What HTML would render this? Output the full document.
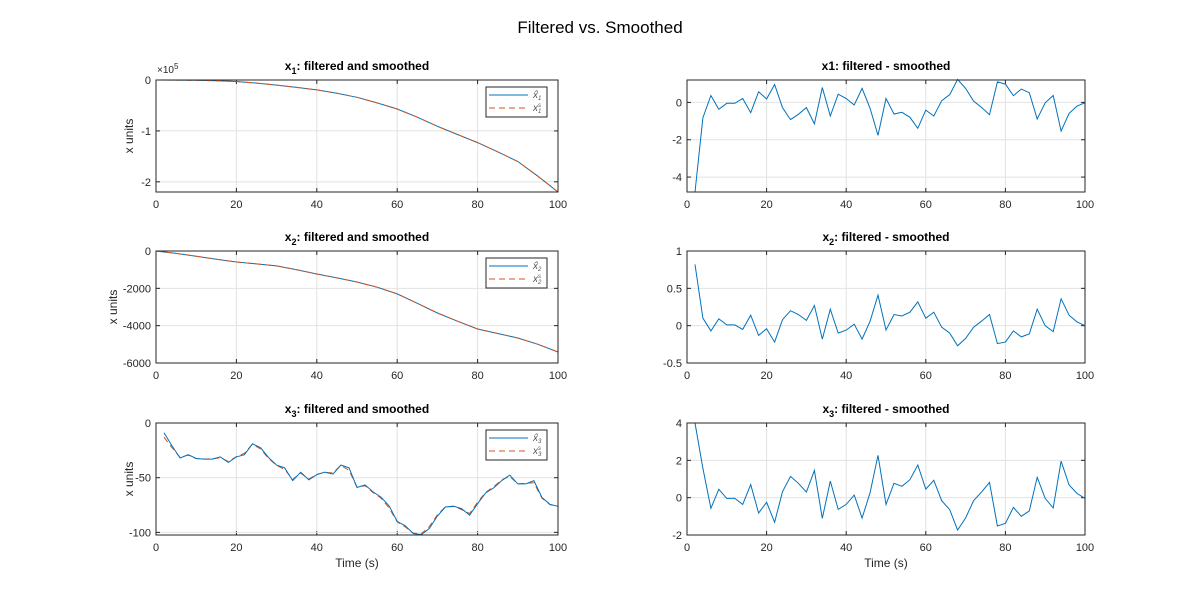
<!DOCTYPE html>
<html><head><meta charset="utf-8"><style>
body{margin:0;background:#fff;width:1200px;height:600px;overflow:hidden}
svg text{font-family:"Liberation Sans",Arial,sans-serif}
</style></head><body>
<svg id="fig" width="1200" height="600" xmlns="http://www.w3.org/2000/svg">
<rect width="1200" height="600" fill="#fff"/>
<text x="600" y="33" text-anchor="middle" font-size="17" fill="#000">Filtered vs. Smoothed</text>
</svg>
<script>
const tCoarse = [0,5,10,15,20,25,30,35,40,45,50,55,60,65,70,75,80,85,90,95,100];
const x1Filt = [0,-0.001,-0.005,-0.014,-0.03,-0.06,-0.1,-0.145,-0.195,-0.26,-0.34,-0.45,-0.57,-0.73,-0.91,-1.07,-1.23,-1.41,-1.6,-1.89,-2.2]; // x 1e5
const x2Filt = [0,-130,-280,-440,-590,-690,-800,-1000,-1230,-1440,-1660,-1940,-2300,-2800,-3320,-3760,-4180,-4420,-4660,-5000,-5410];
const tFine = [2,4,6,8,10,12,14,16,18,20,22,24,26,28,30,32,34,36,38,40,42,44,46,48,50,52,54,56,58,60,62,64,66,68,70,72,74,76,78,80,82,84,86,88,90,92,94,96,98,100];
const x3Filt = [-9,-21,-32,-29,-32.5,-33,-33,-31,-36,-31,-29,-19,-22.6,-31.6,-38.5,-41,-52.7,-45,-52,-47.3,-45,-46.7,-38.5,-41,-59,-56.6,-63,-67.8,-76,-90,-94,-101,-102,-96.4,-85,-76.8,-76,-78.3,-84.3,-73.8,-64,-59.3,-52.7,-47.6,-55.7,-55.7,-52.7,-68,-74.4,-76.2];
const d1 = [-4.8,-0.82,0.37,-0.37,-0.05,-0.05,0.21,-0.55,0.57,0.18,0.96,-0.28,-0.92,-0.64,-0.28,-1.15,0.8,-0.73,0.44,0.21,-0.14,0.75,-0.32,-1.76,0.21,-0.62,-0.53,-0.8,-1.39,-0.41,-0.73,0.09,0.41,1.23,0.75,0.07,-0.27,-0.66,1.1,0.98,0.36,0.71,0.52,-0.89,-0.02,0.37,-1.53,-0.59,-0.2,-0.02];
const d2 = [0.82,0.1,-0.07,0.09,0.01,0.01,-0.05,0.14,-0.13,-0.04,-0.22,0.08,0.2,0.15,0.07,0.27,-0.18,0.22,-0.1,-0.06,0.02,-0.18,0.06,0.41,-0.06,0.15,0.13,0.18,0.32,0.1,0.18,-0.02,-0.1,-0.27,-0.17,-0.02,0.06,0.15,-0.24,-0.22,-0.07,-0.15,-0.11,0.22,0.0,-0.08,0.36,0.14,0.05,0.0];
const d3 = [4.0,1.57,-0.57,0.45,-0.04,-0.04,-0.36,0.7,-0.82,-0.25,-1.32,0.32,1.14,0.77,0.3,1.46,-1.11,0.89,-0.63,-0.36,0.14,-1.09,0.27,2.27,-0.36,0.77,0.61,0.96,1.75,0.46,0.93,-0.16,-0.64,-1.73,-1.09,-0.16,0.3,0.82,-1.52,-1.38,-0.52,-1.0,-0.71,1.09,-0.04,-0.55,1.96,0.68,0.23,-0.04];
const xTicks = [0,20,40,60,80,100];

const svg = document.getElementById('fig');
const NS = 'http://www.w3.org/2000/svg';
function mk(tag, attrs, parent){const e=document.createElementNS(NS,tag);for(const k in attrs)e.setAttribute(k,attrs[k]);(parent||svg).appendChild(e);return e;}

function panel(o){
  const g = mk('g',{});
  
  
  const L=o.x0,R=o.x1,T=o.y0,B=o.y1;
  const sx=v=>L+(v-0)/(100-0)*(R-L);
  const sy=v=>T+(o.ymax-v)/(o.ymax-o.ymin)*(B-T);
  mk('rect',{x:L,y:T,width:R-L,height:B-T,fill:'#fff'},g);
  xTicks.forEach(t=>{
    const X=sx(t);
    if(t>0&&t<100) mk('line',{x1:X,y1:T,x2:X,y2:B,stroke:'#e2e2e2','stroke-width':1},g);
    mk('line',{x1:X,y1:B,x2:X,y2:B-4,stroke:'#262626'},g);
    mk('line',{x1:X,y1:T,x2:X,y2:T+4,stroke:'#262626'},g);
    const tx=mk('text',{x:X,y:B+16,'text-anchor':'middle','font-size':11,fill:'#262626'},g);tx.textContent=t;
    
    
  });
  o.yTicks.forEach((t,i)=>{
    const Y=sy(t);
    if(Math.abs(Y-T)>1&&Math.abs(Y-B)>1) mk('line',{x1:L,y1:Y,x2:R,y2:Y,stroke:'#e2e2e2'},g);
    mk('line',{x1:L,y1:Y,x2:L+4,y2:Y,stroke:'#262626'},g);
    mk('line',{x1:R,y1:Y,x2:R-4,y2:Y,stroke:'#262626'},g);
    const tx=mk('text',{x:L-5,y:Y+4,'text-anchor':'end','font-size':11,fill:'#262626'},g);tx.textContent=o.yLabels[i];
    
    
  });
  o.series.forEach(s=>{
    const p=s.t.map((t,i)=>sx(t).toFixed(1)+','+sy(s.v[i]).toFixed(1)).join(' ');
    const pl=mk('polyline',{points:p,fill:'none',stroke:s.c,'stroke-width':1,'stroke-dasharray':s.dash||'none'},g);
    
    
  });
  mk('rect',{x:L,y:T,width:R-L,height:B-T,fill:'none',stroke:'#262626','stroke-width':1},g);
  const ti=mk('text',{x:(L+R)/2,y:T-10,'text-anchor':'middle','font-size':12,'font-weight':'bold',fill:'#000'},g);
  ti.innerHTML=o.title;
  
  
  if(o.ylabel){
    const yl=mk('text',{x:0,y:0,transform:`translate(${L-o.ylOff},${(T+B)/2}) rotate(-90)`,'text-anchor':'middle','font-size':12,fill:'#262626'},g);
    yl.textContent=o.ylabel;
    
    
  }
  if(o.xlabel){
    const xl=mk('text',{x:(L+R)/2,y:B+32,'text-anchor':'middle','font-size':12,fill:'#262626'},g);
    xl.textContent=o.xlabel;
    
    
  }
  if(o.legend){
    const lg=mk('g',{},g);
    
    
    const lx=486,ly=T+7;
    mk('rect',{x:lx,y:ly,width:61,height:30,fill:'#fff',stroke:'#262626'},lg);
    mk('line',{x1:lx+3,y1:ly+8,x2:lx+42,y2:ly+8,stroke:'#0072BD'},lg);
    mk('line',{x1:lx+3,y1:ly+21,x2:lx+42,y2:ly+21,stroke:'#D95319','stroke-dasharray':'6,4'},lg);
    const a=mk('text',{x:lx+47,y:ly+11,'font-size':10,'font-style':'italic',fill:'#555','font-family':'Liberation Serif, serif'},lg);
    a.innerHTML='x&#770;<tspan font-size="6" dy="2">'+o.legend+'</tspan>';
    
    
    const b=mk('text',{x:lx+47,y:ly+24,'font-size':10,'font-style':'italic',fill:'#555','font-family':'Liberation Serif, serif'},lg);
    b.innerHTML='x<tspan font-size="6" dy="-4">s</tspan><tspan font-size="6" dx="-3" dy="6">'+o.legend+'</tspan>';
    
    
  }
}
const x1Smooth = x1Filt.slice();
const x2Smooth = x2Filt.slice();
const x3Smooth = x3Filt.map((v,i)=>v-d3[i]);

const sub=n=>`<tspan font-size="9" dy="4">${n}</tspan><tspan dy="-4">`;
panel({name:'x1-states-panel',x0:156,x1:558,y0:80,y1:192,ymin:-2.2,ymax:0,yTicks:[0,-1,-2],yLabels:['0','-1','-2'],ylOff:23,
  title:'x'+sub(1)+': filtered and smoothed</tspan>',ylabel:'x units',legend:'1',
  series:[{name:'x1-filtered-line',t:tCoarse,v:x1Filt,c:'#0072BD'},{name:'x1-smoothed-line',t:tCoarse,v:x1Smooth,c:'#D95319',dash:'6,4'}]});
panel({name:'x2-states-panel',x0:156,x1:558,y0:251,y1:363,ymin:-6000,ymax:0,yTicks:[0,-2000,-4000,-6000],yLabels:['0','-2000','-4000','-6000'],ylOff:39,
  title:'x'+sub(2)+': filtered and smoothed</tspan>',ylabel:'x units',legend:'2',
  series:[{name:'x2-filtered-line',t:tCoarse,v:x2Filt,c:'#0072BD'},{name:'x2-smoothed-line',t:tCoarse,v:x2Smooth,c:'#D95319',dash:'6,4'}]});
panel({name:'x3-states-panel',x0:156,x1:558,y0:423,y1:535,ymin:-102.4,ymax:0,yTicks:[0,-50,-100],yLabels:['0','-50','-100'],ylOff:23,
  title:'x'+sub(3)+': filtered and smoothed</tspan>',ylabel:'x units',xlabel:'Time (s)',legend:'3',
  series:[{name:'x3-smoothed-line',t:tFine,v:x3Smooth,c:'#D95319',dash:'6,4'},{name:'x3-filtered-line',t:tFine,v:x3Filt,c:'#0072BD'}]});
panel({name:'x1-diff-panel',x0:687,x1:1085,y0:80,y1:192,ymin:-4.8,ymax:1.2,yTicks:[0,-2,-4],yLabels:['0','-2','-4'],
  title:'x1: filtered - smoothed',series:[{name:'x1-diff-line',t:tFine,v:d1,c:'#0072BD'}]});
panel({name:'x2-diff-panel',x0:687,x1:1085,y0:251,y1:363,ymin:-0.5,ymax:1,yTicks:[1,0.5,0,-0.5],yLabels:['1','0.5','0','-0.5'],
  title:'x'+sub(2)+': filtered - smoothed</tspan>',series:[{name:'x2-diff-line',t:tFine,v:d2,c:'#0072BD'}]});
panel({name:'x3-diff-panel',x0:687,x1:1085,y0:423,y1:535,ymin:-2,ymax:4,yTicks:[4,2,0,-2],yLabels:['4','2','0','-2'],
  title:'x'+sub(3)+': filtered - smoothed</tspan>',xlabel:'Time (s)',series:[{name:'x3-diff-line',t:tFine,v:d3,c:'#0072BD'}]});

const ex=mk('text',{x:157,y:73,'font-size':10,fill:'#262626'});
ex.innerHTML='×10<tspan font-size="8" dy="-4">5</tspan>';


</script>
</body></html>
